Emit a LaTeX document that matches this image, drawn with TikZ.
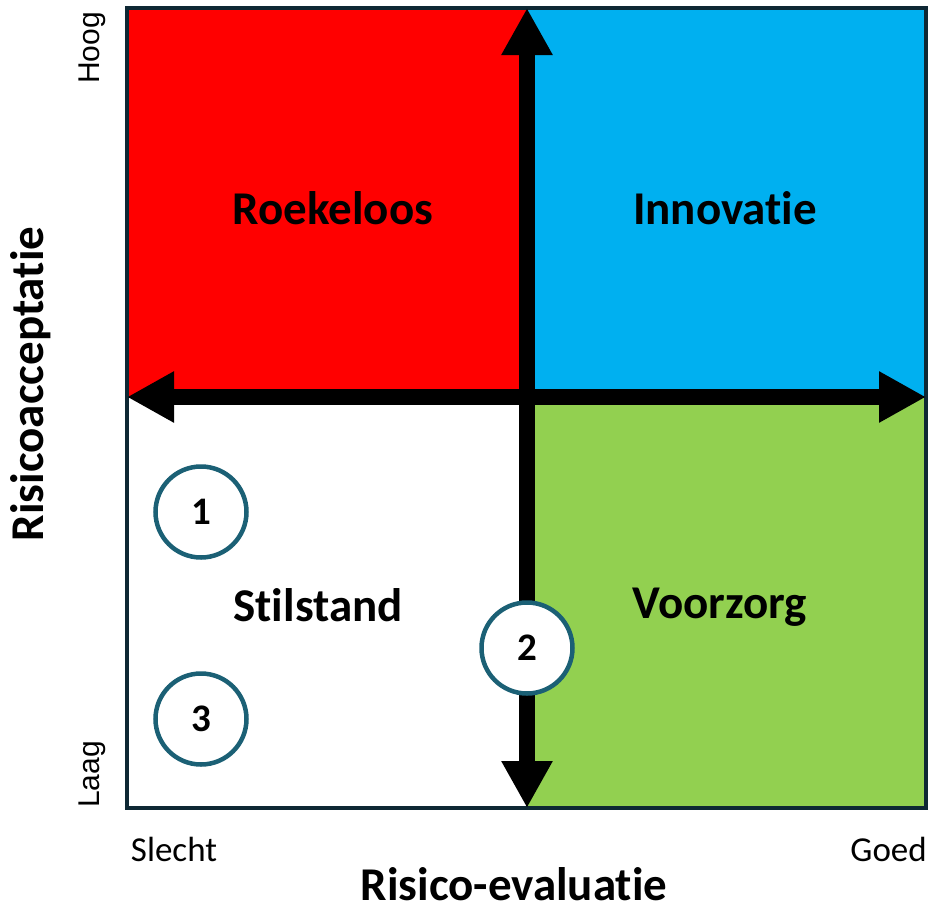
\documentclass[tikz,border=0pt]{standalone}
\usepackage{fontspec}
\setmainfont{Carlito}[Ligatures=NoCommon]
\newfontfamily\arialfont{Liberation Sans}
\usetikzlibrary{arrows.meta}
\definecolor{rood}{RGB}{255,0,0}
\definecolor{blauw}{RGB}{0,176,240}
\definecolor{groen}{RGB}{146,208,80}
\definecolor{rand}{RGB}{14,40,52}
\definecolor{ring}{RGB}{27,96,117}
\tikzset{
	pijl/.style={line width=16pt,{Triangle[length=47pt,width=48pt]}-{Triangle[length=47pt,width=48pt]}},
	kwadrant/.style={font=\fontsize{47}{50}\selectfont\bfseries},
	cirkel/.style={circle,draw=ring,line width=4.5pt,fill=white,minimum size=91pt,inner sep=0pt,font=\fontsize{39}{40}\selectfont\bfseries},
	as/.style={font=\fontsize{47}{50}\selectfont\bfseries},
	schaal/.style={font=\fontsize{35}{38}\selectfont},
	niveau/.style={font=\arialfont\fontsize{30}{32}\selectfont,rotate=90}
}
\begin{document}
\begin{tikzpicture}[x=1pt,y=-1pt]
	\useasboundingbox (0,0) rectangle (929,911);
	% vlakken
	\fill[rood] (127,8) rectangle (527,397) ; \fill[blauw] (527,8) rectangle (926,397) ;
	\fill[white] (127,397) rectangle (527,808) ; \fill[groen] (527,397) rectangle (926,808) ;
	\draw[rand,line width=4pt] (127,8) rectangle (926,808) ;
	% assen
	\coordinate (links) at (127,397) ; \coordinate (rechts) at (926,397) ;
	\coordinate (boven) at (527,8) ; \coordinate (onder) at (527,808) ;
	\draw[pijl] (links) -- (rechts) ; \draw[pijl] (onder) -- (boven) ;
	% namen
	\node[kwadrant] (roekeloos) at (333,208) {Roekeloos} ;
	\node[kwadrant] (innovatie) at (725,208) {Innovatie} ;
	\node[kwadrant] (stilstand) at (318,605) {Stilstand} ;
	\node[kwadrant] (voorzorg) at (720,607) {Voorzorg} ;
	\node[cirkel] (een) at (201,512) {1} ;
	\node[cirkel] (twee) at (527,648) {2} ;
	\node[cirkel] (drie) at (201,719) {3} ;
	% labels
	\node[as] (evaluatie) at (514,884) {Risico-evaluatie} ;
	\node[as,rotate=90] (acceptatie) at (31,384) {Risicoacceptatie} ;
	\node[schaal] (slecht) at (174,849) {Slecht} ;
	\node[schaal,anchor=east,inner sep=0pt] (goed) at (927,849) {Goed} ;
	\node[niveau,anchor=east,inner sep=0pt] (hoog) at (92,12) {Hoog} ;
	\node[niveau,anchor=west,inner sep=0pt] (laag) at (92,808) {Laag} ;
\end{tikzpicture}
\end{document}
